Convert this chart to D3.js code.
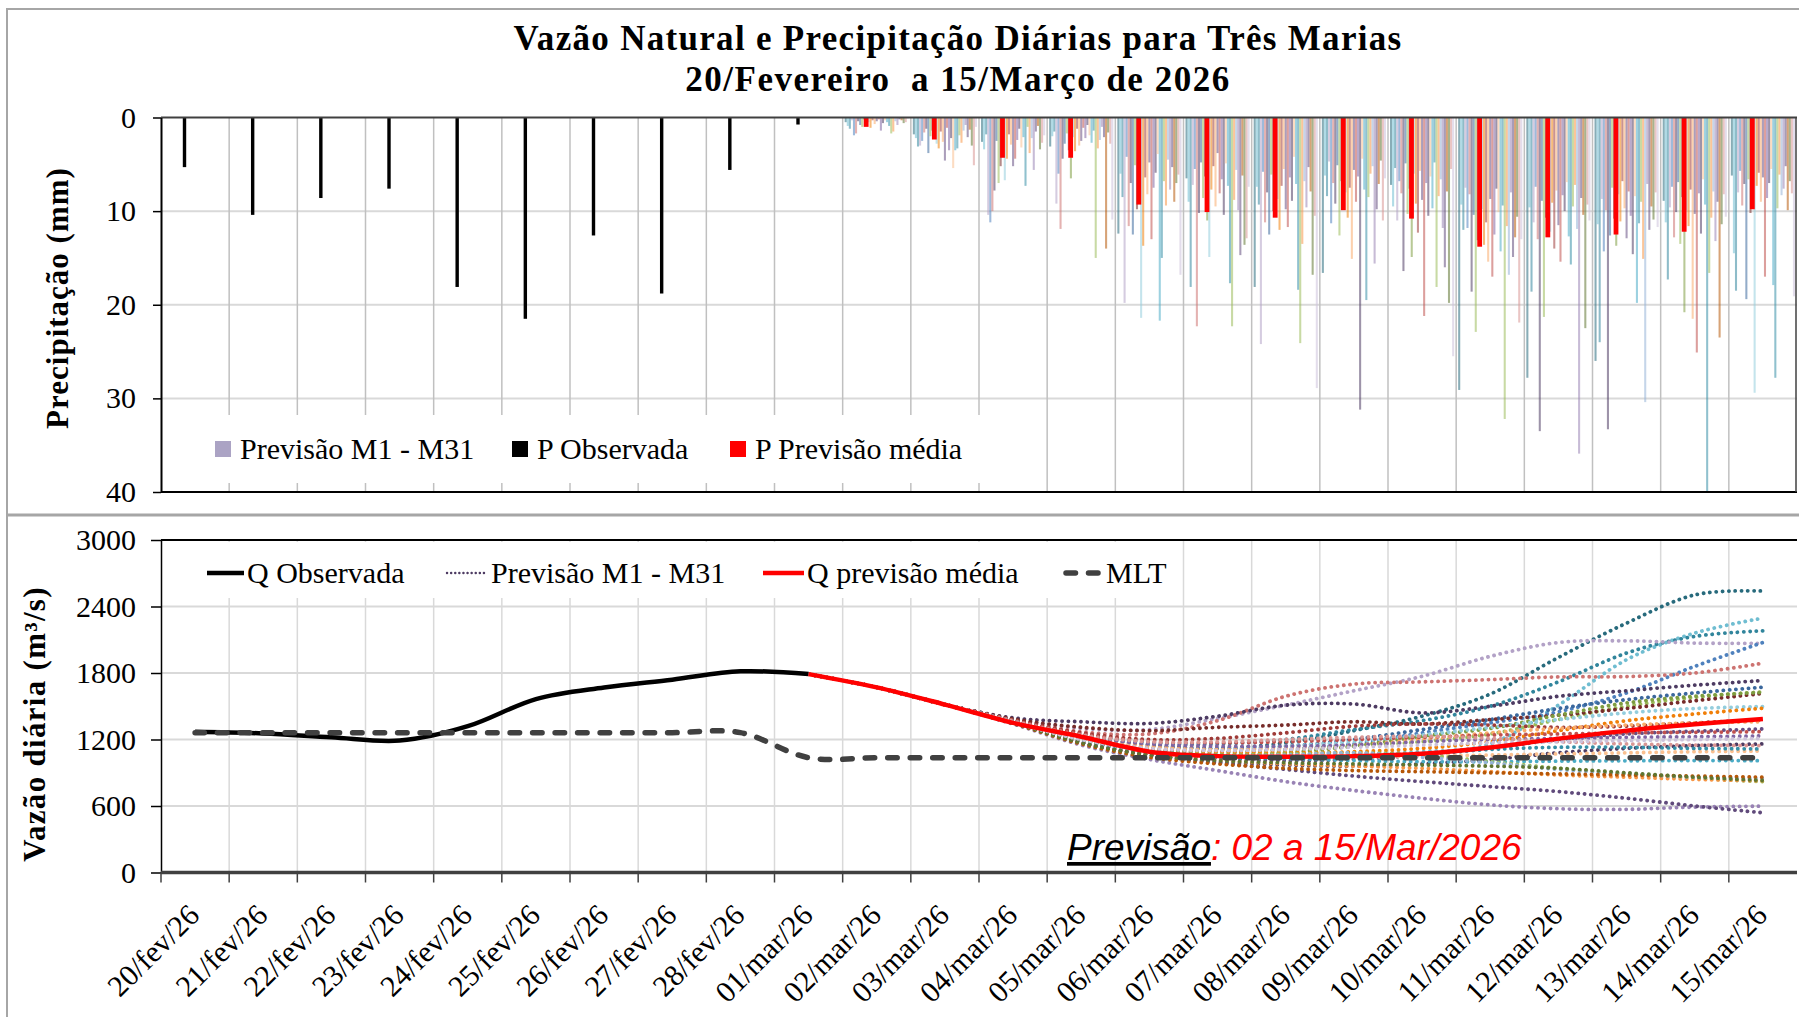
<!DOCTYPE html>
<html><head><meta charset="utf-8">
<script src="https://cdn.jsdelivr.net/npm/d3@7"></script>
<style>body{margin:0;background:#fff} svg{display:block} text{font-family:"Liberation Serif","Times New Roman",serif}</style>
</head><body><svg id="c" width="1799" height="1017"></svg>
<script>
// ---------- DATA ----------
const dias = ["20/fev/26","21/fev/26","22/fev/26","23/fev/26","24/fev/26","25/fev/26","26/fev/26","27/fev/26","28/fev/26",
  "01/mar/26","02/mar/26","03/mar/26","04/mar/26","05/mar/26","06/mar/26","07/mar/26","08/mar/26","09/mar/26","10/mar/26",
  "11/mar/26","12/mar/26","13/mar/26","14/mar/26","15/mar/26"];
// precipitation (mm)
const precipObservada = [5.3,10.4,8.6,7.6,18.1,21.5,12.6,18.8,5.6,0.75];            // 20/fev .. 01/mar
const precipPrevMedia = [1.0,2.35,4.3,4.3,9.3,10.1,10.7,9.9,10.8,13.8,12.8,12.5,12.2,9.8]; // 02/mar .. 15/mar
const precipMembros = [ // rows: 02/mar .. 15/mar ; columns: M1 .. M31
  [0.5,0.9,1.2,0.3,1.9,1.7,0.4,0.8,1.0,0.2,0.6,0.5,1.1,0.3,0.7,0.4,0.2,1.4,0.6,0.3,0.5,0.9,1.7,1.5,0.4,0.8,0.2,0.3,0.6,0.5,0.1],
  [1.8,2.2,3.1,3.0,2.5,1.6,1.2,3.8,2.0,1.4,0.9,2.8,3.3,1.5,2.6,4.6,1.1,3.5,2.2,5.4,3.5,3.3,1.9,2.7,1.4,0.8,2.1,1.3,3.0,5.1,1.0],
  [2.6,3.4,1.8,10.4,11.2,10.0,7.8,2.5,7.0,5.2,3.1,6.7,4.4,1.8,2.9,5.2,4.4,2.4,1.2,3.2,2.1,7.3,1.0,3.8,2.2,5.6,1.5,0.9,3.4,2.7,1.9],
  [3.1,2.0,1.5,9.2,6.0,11.9,4.4,2.8,1.7,3.5,6.5,2.1,3.6,1.2,3.0,2.5,1.1,2.2,0.8,1.9,2.7,1.4,15.0,3.3,2.4,1.0,2.1,14.0,1.6,2.8,10.9],
  [12.4,6.0,8.5,19.8,4.2,11.6,7.0,12.5,5.1,9.8,3.6,21.4,13.7,6.4,8.2,4.8,13.0,7.5,5.9,3.9,21.7,15.0,6.8,9.4,4.5,7.7,5.3,9.0,7.0,6.1,16.8],
  [6.5,9.0,18.1,7.2,5.5,22.3,10.2,4.8,8.6,6.3,11.0,14.9,7.7,5.2,9.5,3.8,8.1,6.6,10.4,4.9,7.3,17.7,22.3,8.8,5.6,9.9,14.7,6.2,13.6,12.9,7.4],
  [18.1,7.4,9.3,24.2,5.8,11.2,8.0,12.5,6.1,10.0,4.9,8.7,12.0,7.3,5.5,9.8,11.7,6.4,8.9,4.2,7.1,18.4,24.1,13.5,6.8,9.6,5.3,7.9,16.8,10.5,28.9],
  [16.6,6.2,8.4,4.7,11.3,7.0,9.2,5.1,12.6,6.8,3.9,8.0,10.7,7.5,15.1,5.6,9.0,6.3,31.2,4.4,7.7,19.5,8.5,6.0,5.2,15.6,9.8,7.1,4.6,11.0,6.5],
  [7.2,9.5,5.4,11.0,6.8,8.1,16.4,4.9,10.3,7.6,14.9,6.0,9.2,12.3,5.7,8.8,21.2,7.0,10.5,6.3,9.7,4.8,18.1,8.4,6.6,11.8,16.0,7.9,19.8,5.5,25.5],
  [29.1,9.3,12.0,7.5,11.8,8.2,18.6,10.4,22.9,13.1,6.9,9.8,13.6,11.2,15.4,8.7,17.0,12.5,7.6,10.1,14.3,9.4,32.2,11.6,16.8,8.0,14.9,12.8,10.6,21.9,13.0],
  [27.8,9.6,18.6,11.2,7.4,13.0,33.5,8.9,21.3,10.7,6.5,12.2,9.1,14.0,7.8,11.5,15.4,8.3,10.0,6.9,12.7,15.7,9.5,7.2,11.9,35.9,8.6,10.4,22.5,9.3,11.0],
  [26.0,11.4,24.0,8.7,14.3,9.9,33.3,12.6,7.5,10.8,13.7,8.2,11.1,6.8,9.7,12.9,7.9,10.5,14.6,8.4,19.8,11.3,9.0,15.1,30.4,7.1,12.0,9.5,10.9,8.0,11.7],
  [8.9,11.2,17.3,9.6,7.4,12.8,10.1,6.9,13.5,8.5,20.8,9.9,11.6,7.7,21.5,10.3,25.1,8.1,12.4,6.6,9.3,40.0,16.6,10.7,7.9,13.2,9.0,23.5,11.4,8.2,10.6],
  [6.2,14.5,18.5,8.0,5.7,9.4,7.1,19.4,6.6,10.2,8.8,29.4,7.3,5.9,9.0,6.4,17.0,8.6,7.0,5.5,17.9,27.8,9.7,6.1,8.3,7.6,5.2,9.9,6.8,8.1,19.1]
];
// discharge (m3/s)
const vazaoObservada = [1270,1255,1220,1190,1320,1565,1670,1740,1815,1790];  // 20/fev .. 01/mar
const vazaoPrevMedia = [1790,1670,1515,1350,1225,1090,1050,1045,1050,1072,1128,1208,1280,1337,1386]; // 01/mar .. 15/mar
const vazaoMLT = [1262,1262,1262,1262,1262,1262,1262,1262,1262,1036,1036,1036,1036,1036,1036,1036,1036,1036,1036,1036,1036,1036,1036,1036];
const vazaoMembros = [ // 01/mar .. 15/mar
  [1790,1670,1515,1375,1240,1150,1120,1170,1280,1410,1610,1940,2250,2505,2540],
  [1790,1670,1515,1370,1215,1110,1070,1060,1075,1090,1160,1510,1920,2160,2295],
  [1790,1670,1515,1380,1250,1170,1160,1200,1290,1370,1500,1720,1980,2130,2180],
  [1790,1670,1515,1385,1300,1290,1390,1510,1640,1770,1950,2075,2090,2070,2068],
  [1790,1670,1515,1365,1205,1110,1090,1110,1160,1260,1350,1450,1620,1860,2075],
  [1790,1670,1515,1380,1270,1250,1370,1590,1700,1720,1740,1765,1768,1800,1889],
  [1790,1670,1515,1395,1360,1345,1410,1510,1520,1440,1500,1590,1640,1690,1732],
  [1790,1670,1515,1370,1230,1150,1120,1140,1200,1290,1380,1480,1560,1620,1672],
  [1790,1670,1515,1360,1200,1110,1080,1100,1140,1180,1250,1380,1500,1580,1630],
  [1790,1670,1515,1385,1310,1280,1310,1330,1360,1340,1380,1420,1480,1550,1615],
  [1790,1670,1515,1355,1190,1090,1060,1080,1140,1230,1300,1420,1530,1590,1625],
  [1790,1670,1515,1365,1210,1130,1110,1140,1180,1240,1310,1380,1440,1480,1497],
  [1790,1670,1515,1360,1200,1120,1090,1080,1090,1120,1180,1280,1370,1430,1482],
  [1790,1670,1515,1375,1260,1200,1210,1260,1320,1340,1330,1310,1320,1350,1377],
  [1790,1670,1515,1370,1230,1140,1110,1120,1150,1200,1260,1300,1330,1350,1361],
  [1790,1670,1515,1350,1180,1080,1030,1010,1020,1060,1120,1200,1250,1275,1295],
  [1790,1670,1515,1370,1250,1180,1170,1180,1200,1220,1240,1250,1260,1265,1271],
  [1790,1670,1515,1365,1230,1160,1140,1140,1150,1180,1200,1210,1220,1225,1232],
  [1790,1670,1515,1345,1170,1060,1000,970,960,980,1020,1080,1120,1145,1160],
  [1790,1670,1515,1355,1190,1090,1050,1040,1040,1050,1060,1070,1080,1090,1096],
  [1790,1670,1515,1360,1200,1100,1050,1030,1010,1000,1000,1005,1008,1010,1009],
  [1790,1670,1515,1360,1190,1090,1040,1030,1040,1070,1110,1130,1130,1120,1115],
  [1790,1670,1515,1355,1190,1090,1060,1070,1080,1060,1000,940,890,850,819],
  [1790,1670,1515,1350,1170,1060,1010,980,960,940,910,880,860,840,828],
  [1790,1670,1515,1355,1180,1080,1050,1060,1080,1040,990,930,890,860,849],
  [1790,1670,1515,1340,1150,1020,920,820,740,670,610,575,570,590,599],
  [1790,1670,1515,1345,1170,1060,990,930,870,820,775,730,670,600,539],
  [1790,1670,1515,1345,1160,1040,980,940,920,910,900,890,880,870,860],
  [1790,1670,1515,1350,1170,1060,1010,990,980,970,960,940,900,860,830],
  [1790,1670,1515,1365,1240,1180,1180,1200,1220,1230,1210,1180,1160,1150,1145],
  [1790,1670,1515,1355,1200,1120,1100,1110,1130,1150,1170,1180,1190,1200,1210]
];
const coresMembros = ["#276A7C","#6FBDD1","#31859C","#B3A2C7","#4F81BD","#CD7371","#4D3B62","#3A679C","#9BBB59","#772C2A",
  "#7E9D40","#93CDDD","#F07F09","#9F3B38","#F9AB6B","#664F83","#C0504D","#8064A2","#4D3B62","#FAC090",
  "#4BACC6","#358EA6","#9BBB59","#F79646","#95B3D7","#9983B5","#604A7B","#B65708","#5F7530","#D99694","#CCC1DA"];
const ticksPrecip = [0,10,20,30,40];
const ticksVazao = [0,600,1200,1800,2400,3000];

// ---------- LAYOUT ----------
const svg = d3.select("#c");
const X0 = 161, X1 = 1797;
const x = d3.scaleBand().domain(dias).range([X0, X1]).padding(0);
const bw = x.bandwidth();
const cx = d => x(d) + bw/2;
const yP = d3.scaleLinear().domain([0,40]).range([117.5, 492]);
const yQ = d3.scaleLinear().domain([0,3000]).range([872.5, 540]);
const FS = 30;

// outer frame + divider
svg.append("rect").attr("x",7).attr("y",9).attr("width",1800).attr("height",1020)
  .attr("fill","none").attr("stroke","#a6a6a6").attr("stroke-width",2);
svg.append("line").attr("x1",7).attr("x2",1799).attr("y1",515).attr("y2",515)
  .attr("stroke","#a6a6a6").attr("stroke-width",3);

// title
svg.append("text").attr("x",958).attr("y",50).attr("text-anchor","middle").attr("letter-spacing",1.3)
  .attr("font-size",35).attr("font-weight","bold").text("Vazão Natural e Precipitação Diárias para Três Marias");
svg.append("text").attr("x",958).attr("y",91).attr("text-anchor","middle").attr("letter-spacing",1.5).style("white-space","pre")
  .attr("font-size",35).attr("font-weight","bold").text("20/Fevereiro  a 15/Março de 2026");

// ===== TOP: precipitation =====
const gT = svg.append("g");
gT.selectAll("line.hg").data([10,20,30]).join("line")
  .attr("x1",X0).attr("x2",X1).attr("y1",d=>yP(d)).attr("y2",d=>yP(d))
  .attr("stroke","#d9d9d9").attr("stroke-width",2);
gT.selectAll("line.vg").data(dias.slice(1)).join("line")
  .attr("x1",d=>x(d)).attr("x2",d=>x(d)).attr("y1",yP(0)).attr("y2",yP(40))
  .attr("stroke","#c0c0c0").attr("stroke-width",1.5);

// member bars
const slot = (bw - 4) / 31;
precipMembros.forEach((row, j) => {
  const d = dias[10 + j];
  gT.append("g").selectAll("rect").data(row).join("rect")
    .attr("x",(v,m)=>x(d) + 2 + m*slot).attr("width",slot)
    .attr("y",yP(0)).attr("height",v=>yP(v)-yP(0))
    .attr("fill",(v,m)=>coresMembros[m]).attr("fill-opacity",0.55);
});
const barOff = 23.5;
gT.selectAll("rect.obs").data(precipObservada).join("rect")
  .attr("x",(v,i)=>x(dias[i]) + barOff - 1.7).attr("width",3.4)
  .attr("y",yP(0)).attr("height",v=>yP(v)-yP(0)).attr("fill","#000");
gT.selectAll("rect.med").data(precipPrevMedia).join("rect")
  .attr("x",(v,i)=>x(dias[10+i]) + barOff - 2.4).attr("width",4.8)
  .attr("y",yP(0)).attr("height",v=>yP(v)-yP(0)).attr("fill","#ff0000");

// frame lines of top plot
gT.append("line").attr("x1",X0).attr("x2",X1).attr("y1",yP(0)).attr("y2",yP(0)).attr("stroke","#404040").attr("stroke-width",2);
gT.append("line").attr("x1",X0).attr("x2",X1).attr("y1",yP(40)).attr("y2",yP(40)).attr("stroke","#000").attr("stroke-width",2);
gT.append("line").attr("x1",X1-1).attr("x2",X1-1).attr("y1",yP(0)).attr("y2",yP(40)).attr("stroke","#404040").attr("stroke-width",1.5);
const axP = gT.append("g").attr("transform",`translate(${X0},0)`)
  .call(d3.axisLeft(yP).tickValues(ticksPrecip).tickSize(8).tickSizeOuter(0).tickPadding(17).tickFormat(d3.format("d")));
axP.select(".domain").attr("stroke","#000").attr("stroke-width",2);
axP.selectAll(".tick line").attr("stroke","#000").attr("stroke-width",1.5);
axP.selectAll(".tick text").attr("font-size",FS).attr("fill","#000").attr("font-family","Liberation Serif");

// top legend
gT.append("rect").attr("x",166).attr("y",415).attr("width",845).attr("height",68).attr("fill","#fff");
const legT = [{t:"Previsão M1 - M31", c:"#ABA3C4", sx:215, tx:240},
              {t:"P Observada", c:"#000", sx:512, tx:537},
              {t:"P Previsão média", c:"#ff0000", sx:730, tx:755}];
legT.forEach(l => {
  gT.append("rect").attr("x",l.sx).attr("y",441).attr("width",16).attr("height",16).attr("fill",l.c);
  gT.append("text").attr("x",l.tx).attr("y",459).attr("font-size",FS).text(l.t);
});
gT.append("text").attr("transform","translate(68,298) rotate(-90)").attr("text-anchor","middle").attr("letter-spacing",1)
  .attr("font-size",31).attr("font-weight","bold").text("Precipitação (mm)");

// ===== BOTTOM: discharge =====
const gB = svg.append("g");
gB.selectAll("line.hg").data([600,1200,1800,2400]).join("line")
  .attr("x1",X0).attr("x2",X1).attr("y1",d=>yQ(d)).attr("y2",d=>yQ(d))
  .attr("stroke","#d9d9d9").attr("stroke-width",2);
gB.selectAll("line.vg").data(dias.slice(1)).join("line")
  .attr("x1",d=>x(d)).attr("x2",d=>x(d)).attr("y1",yQ(0)).attr("y2",yQ(3000))
  .attr("stroke","#d9d9d9").attr("stroke-width",1.5);
gB.append("rect").attr("x",196).attr("y",542).attr("width",980).attr("height",56).attr("fill","#fff");

const lineGen = (offset) => d3.line().x((v,i)=>cx(dias[offset+i])).y(v=>yQ(v)).curve(d3.curveCardinal.tension(0));
vazaoMembros.forEach((s, m) => {
  gB.append("path").attr("d", lineGen(9)(s)).attr("fill","none")
    .attr("stroke",coresMembros[m]).attr("stroke-width",3.8)
    .attr("stroke-linecap","round").attr("stroke-dasharray","0.1 6.2");
});
gB.append("path").attr("d", lineGen(0)(vazaoObservada)).attr("fill","none").attr("stroke","#000").attr("stroke-width",4.5);
gB.append("path").attr("d", lineGen(9)(vazaoPrevMedia)).attr("fill","none").attr("stroke","#ff0000").attr("stroke-width",4.5);
gB.append("path").attr("d", lineGen(0)(vazaoMLT)).attr("fill","none").attr("stroke","#404040").attr("stroke-width",5.5)
  .attr("stroke-linecap","round").attr("stroke-dasharray","9.5 13");

// axes
gB.append("line").attr("x1",X0).attr("x2",X1).attr("y1",yQ(3000)).attr("y2",yQ(3000)).attr("stroke","#000").attr("stroke-width",2);
const axQ = gB.append("g").attr("transform",`translate(${X0},0)`)
  .call(d3.axisLeft(yQ).tickValues(ticksVazao).tickSize(10).tickSizeOuter(0).tickPadding(15).tickFormat(d3.format("d")));
axQ.select(".domain").attr("stroke","#000").attr("stroke-width",1.5);
axQ.selectAll(".tick line").attr("stroke","#000").attr("stroke-width",1.5);
axQ.selectAll(".tick text").attr("font-size",FS).attr("fill","#000").attr("font-family","Liberation Serif");
gB.append("line").attr("x1",X0).attr("x2",X1).attr("y1",yQ(0)).attr("y2",yQ(0)).attr("stroke","#404040").attr("stroke-width",3.5);
gB.selectAll("line.xt").data(dias).join("line")
  .attr("x1",d=>x(d)).attr("x2",d=>x(d)).attr("y1",yQ(0)).attr("y2",yQ(0)+10)
  .attr("stroke","#404040").attr("stroke-width",1.5);
gB.selectAll("text.xl").data(dias).join("text")
  .attr("transform",d=>`translate(${cx(d)+6},917) rotate(-45)`)
  .attr("text-anchor","end").attr("font-size",FS).text(d=>d);

// bottom legend
const legB = [{t:"Q Observada", x1:207, x2:244, tx:247, st:{c:"#000",w:4.5}},
              {t:"Previsão M1 - M31", x1:447, x2:488, tx:491, st:{c:"#4D3B62",w:2.4,da:"0.1 4",lc:"round"}},
              {t:"Q previsão média", x1:763, x2:804, tx:807, st:{c:"#ff0000",w:4.5}},
              {t:"MLT", x1:1066, x2:1100, tx:1106, st:{c:"#404040",w:5.5,da:"9.5 13",lc:"round"}}];
legB.forEach(l => {
  const ln = gB.append("line").attr("x1",l.x1).attr("x2",l.x2).attr("y1",573).attr("y2",573)
    .attr("stroke",l.st.c).attr("stroke-width",l.st.w);
  if (l.st.da) ln.attr("stroke-dasharray",l.st.da).attr("stroke-linecap",l.st.lc);
  gB.append("text").attr("x",l.tx).attr("y",583).attr("font-size",FS).text(l.t);
});
gB.append("text").attr("transform","translate(45,724) rotate(-90)").attr("text-anchor","middle").attr("letter-spacing",1.3)
  .attr("font-size",31).attr("font-weight","bold").text("Vazão diária (m³/s)");

// annotation
const ann = gB.append("text").attr("x",1067).attr("y",860).attr("font-size",37)
  .attr("font-style","italic").style("font-family","'Liberation Sans',Arial,sans-serif");
ann.append("tspan").attr("fill","#000").style("text-decoration","underline").text("Previsão");
ann.append("tspan").attr("fill","#ff0000").text(": 02 a 15/Mar/2026");
</script></body></html>
